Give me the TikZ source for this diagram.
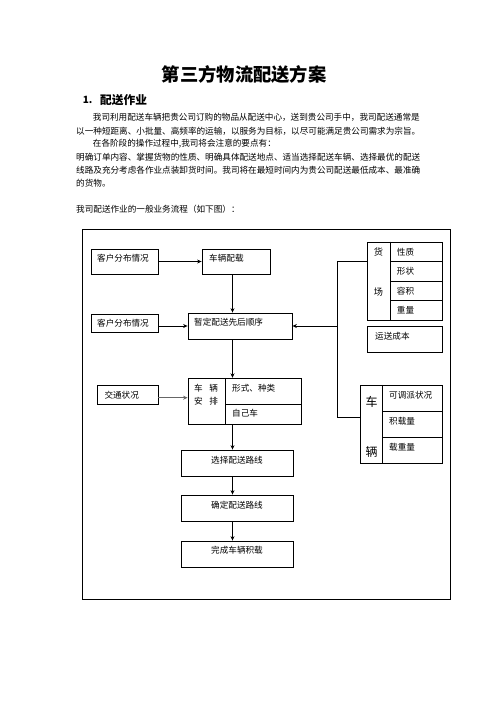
\documentclass[tikz,border=0pt]{standalone}
\usepackage{fontspec}
\setmainfont{Noto Sans CJK SC}
\usetikzlibrary{arrows.meta}
\begin{document}
\begin{tikzpicture}[x=1pt,y=-1pt,
  txt/.style={anchor=west,inner sep=0pt,font=\fontsize{8.6}{10}\selectfont},
  ctxt/.style={inner sep=0pt,font=\fontsize{8.6}{10}\selectfont},
  box/.style={draw,line width=0.8pt,inner sep=0pt,font=\fontsize{8.6}{10}\selectfont},
  arr/.style={-{Stealth[length=4.5pt,width=4pt]},line width=0.8pt},
  thin/.style={line width=0.8pt}]
\useasboundingbox[fill=white] (0,0) rectangle (496,702);
% header text
\node[inner sep=0pt,font=\fontsize{18.3}{20}\selectfont\bfseries] (title) at (244.2,74) {第三方物流配送方案};
\node[anchor=west,inner sep=0pt,font=\fontsize{10}{12}\selectfont\bfseries] (sec) at (82.7,100) {1.};
\node[anchor=west,inner sep=0pt,font=\fontsize{11.7}{13}\selectfont\bfseries] (sect) at (100,100) {配送作业};
\node[txt] (p1) at (92.7,117.7) {我司利用配送车辆把贵公司订购的物品从配送中心，送到贵公司手中，我司配送通常是};
\node[txt] (p2) at (76,130.8) {以一种短距离、小批量、高频率的运输，以服务为目标，以尽可能满足贵公司需求为宗旨。};
\node[txt] (p3) at (92.7,143.9) {在各阶段的操作过程中,我司将会注意的要点有：};
\node[txt] (p4) at (76,157) {明确订单内容、掌握货物的性质、明确具体配送地点、适当选择配送车辆、选择最优的配送};
\node[txt] (p5) at (76,170.1) {线路及充分考虑各作业点装卸货时间。我司将在最短时间内为贵公司配送最低成本、最准确};
\node[txt] (p6) at (76,183.2) {的货物。};
\node[txt] (p7) at (76,209) {我司配送作业的一般业务流程（如下图）：};
% frame
\node[draw,line width=0.8pt,minimum width=367.6pt,minimum height=370pt,inner sep=0pt] (frame) at (266.5,414.3) {};
% left boxes
\node[box,minimum width=67pt,minimum height=25pt] (c1) at (124.5,261.5) {};
\node[txt] at (97,258.5) {客户分布情况};
\node[box,minimum width=68pt,minimum height=25pt] (c2) at (236,261.5) {};
\node[txt] at (209,258.5) {车辆配载};
\node[box,minimum width=67pt,minimum height=18pt] (c3) at (124.5,323) {};
\node[txt] at (97,323) {客户分布情况};
\node[box,minimum width=104pt,minimum height=26pt] (c4) at (240,326) {};
\node[txt] at (194,322.7) {暂定配送先后顺序};
\node[box,minimum width=61pt,minimum height=19pt] (jt) at (127.5,394.5) {};
\node[txt] at (104.3,395) {交通状况};
\node[box,minimum width=113pt,minimum height=46pt] (ap) at (244.5,401.2) {};
\node[txt] at (194,388) {车\hspace{6.5pt}辆};
\node[txt] at (194,401.7) {安\hspace{6.5pt}排};
\node[txt] at (232,388) {形式、种类};
\node[txt] at (232,413.5) {自己车};
\node[box,minimum width=112pt,minimum height=26pt] (s1) at (237,463) {};
\node[ctxt] at (237,460) {选择配送路线};
\node[box,minimum width=112pt,minimum height=26pt] (s2) at (237,508) {};
\node[ctxt] at (237,505) {确定配送路线};
\node[box,minimum width=112pt,minimum height=26pt] (s3) at (237,554) {};
\node[ctxt] at (237,550.5) {完成车辆积载};
% right tables
\node[box,minimum width=75pt,minimum height=78pt] (gt) at (404.5,281) {};
\node[box,minimum width=75pt,minimum height=25.5pt] (yc) at (404.5,339.5) {};
\node[txt] at (375,336.7) {运送成本};
\node[box,minimum width=82pt,minimum height=78pt] (vt) at (401,424.3) {};
\coordinate (gx) at (390,0);
\coordinate (vx) at (382.3,0);
\coordinate (ax) at (225.7,0);
\coordinate (r1) at (0,261.7);
\coordinate (r2) at (0,281.7);
\coordinate (r3) at (0,300.7);
\coordinate (v1) at (0,411.3);
\coordinate (v2) at (0,437.3);
\coordinate (ar) at (0,404.2);
\draw[thin] (gt.north -| gx) -- (gt.south -| gx);
\draw[thin] (gx |- r1) -- (gt.east |- r1);
\draw[thin] (gx |- r2) -- (gt.east |- r2);
\draw[thin] (gx |- r3) -- (gt.east |- r3);
\draw[thin] (vt.north -| vx) -- (vt.south -| vx);
\draw[thin] (vx |- v1) -- (vt.east |- v1);
\draw[thin] (vx |- v2) -- (vt.east |- v2);
\draw[thin] (ap.north -| ax) -- (ap.south -| ax);
\draw[thin] (ax |- ar) -- (ap.east |- ar);
\node[ctxt,font=\fontsize{9.2}{10}\selectfont] at (378.5,252.3) {货};
\node[ctxt,font=\fontsize{9.2}{10}\selectfont] at (378.5,291.7) {场};
\node[txt] at (396.7,252.3) {性质};
\node[txt] at (396.7,271.7) {形状};
\node[txt] at (396.7,291) {容积};
\node[txt] at (396.7,310) {重量};
\node[ctxt,font=\fontsize{12}{13}\selectfont] at (371.5,402) {车};
\node[ctxt,font=\fontsize{12}{13}\selectfont] at (371.5,452) {辆};
\node[txt] at (389,395) {可调派状况};
\node[txt] at (389,421) {积载量};
\node[txt] at (389,447) {载重量};
% connectors
\coordinate (mx) at (232.5,0);
\coordinate (bx) at (337.7,0);
\coordinate (by) at (0,417.3);
\coordinate (jy) at (0,397.7);
\draw[arr] (c1.east) -- (c2.west);
\draw[arr] (c2.south -| mx) -- (c4.north -| mx);
\draw[arr] (c3.east |- c4.west) -- (c4.west);
\draw[arr] (c4.south -| mx) -- (ap.north -| mx);
\draw[-{Stealth[length=4.5pt,width=4pt]},line width=1.5pt,gray!80!black] (jt.east |- jy) -- (ap.west |- jy);
\draw[arr] (ap.south -| mx) -- (s1.north -| mx);
\draw[arr] (s1.south -| mx) -- (s2.north -| mx);
\draw[arr] (s2.south -| mx) -- (s3.north -| mx);
\draw[thin] (gt.west |- r1) -- (bx |- r1) -- (bx |- by) -- (vt.west |- by);
\draw[arr] (bx |- c4.east) -- (c4.east);
\end{tikzpicture}
\end{document}
